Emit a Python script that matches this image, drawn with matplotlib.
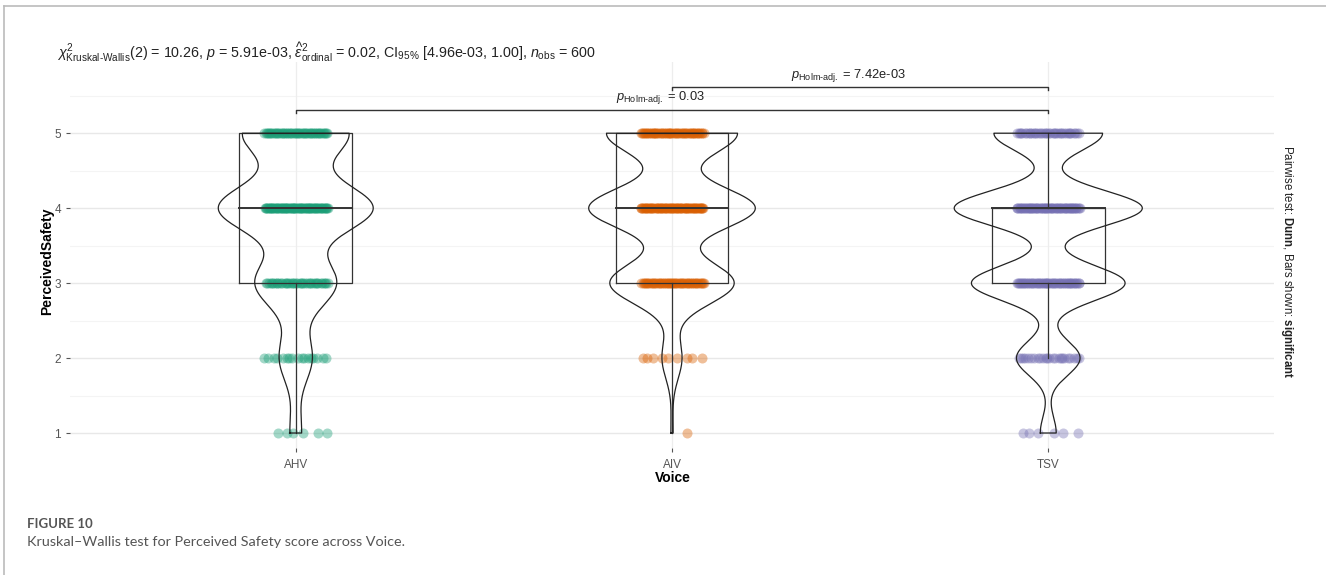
import numpy as np
import matplotlib
matplotlib.use("Agg")
import matplotlib.pyplot as plt
from matplotlib.lines import Line2D

# ---- data -------------------------------------------------------------
groups = ["AHV", "AIV", "TSV"]
levels = [1, 2, 3, 4, 5]
counts_ahv = [6, 17, 42, 80, 55]
counts_aiv = [1, 9, 56, 75, 59]
counts_tsv = [6, 24, 58, 71, 41]
group_counts = [counts_ahv, counts_aiv, counts_tsv]
colors = ["#1B9E77", "#D95F02", "#7570B3"]
y_ticks = [1, 2, 3, 4, 5]
sig_pairs = [("AHV", "TSV"), ("AIV", "TSV")]
sig_pvalues = ["0.03", "7.42e-03"]

subtitle = (r"$\chi^2_{\mathrm{Kruskal\text{-}Wallis}}(2)$ = 10.26, $\mathit{p}$ = 5.91e-03, "
            r"$\widehat{\varepsilon}^2_{\mathrm{ordinal}}$ = 0.02, CI$_{95\%}$ [4.96e-03, 1.00], "
            r"$\mathit{n}_{\mathrm{obs}}$ = 600")

plt.rcParams["font.family"] = ["Liberation Sans", "DejaVu Sans"]
plt.rcParams["mathtext.fontset"] = "custom"
plt.rcParams["mathtext.rm"] = "Liberation Sans"
plt.rcParams["mathtext.it"] = "Liberation Sans:italic"
plt.rcParams["mathtext.bf"] = "Liberation Sans:bold"
plt.rcParams["mathtext.sf"] = "Liberation Sans"


def bw_nrd0(x):
    sd = np.std(x, ddof=1)
    q75, q25 = np.percentile(x, [75, 25])
    lo = min(sd, (q75 - q25) / 1.34)
    return 0.9 * lo * len(x) ** -0.2


def kde(x, grid):
    h = bw_nrd0(x)
    z = (grid[:, None] - x[None, :]) / h
    return np.exp(-0.5 * z ** 2).sum(axis=1) / (len(x) * h * np.sqrt(2 * np.pi))


samples = [np.repeat(levels, c).astype(float) for c in group_counts]
grids = [np.linspace(s.min(), s.max(), 512) for s in samples]
dens = [kde(s, g) for s, g in zip(samples, grids)]
dmax = max(d.max() for d in dens)

W, H = 1326, 575
fig = plt.figure(figsize=(W / 100, H / 100), dpi=100)
ax = fig.add_axes([70 / W, 1 - 448 / H, (1274 - 70) / W, (448 - 62) / H])
ax.set_xlim(0.4, 3.6)
ax.set_ylim(0.8, 5.95)

# grid
for y in np.arange(1.5, 5.6, 1.0):
    ax.axhline(y, color="#F4F4F4", lw=0.8, zorder=0)
for y in y_ticks:
    ax.axhline(y, color="#E8E8E8", lw=1.0, zorder=0)
for i in range(len(groups)):
    ax.axvline(i + 1, color="#EDEDED", lw=0.9, zorder=0)

for i, (s, g, d, cnts, col) in enumerate(zip(samples, grids, dens, group_counts, colors)):
    xc = i + 1
    # jittered points
    for lev, c in zip(levels, cnts):
        k = np.arange(c)
        off = ((k * 0.6180339887 + 0.37 * (lev + i)) % 1.0 - 0.5) * 0.17
        ax.scatter(xc + off, np.full(c, lev), s=52, color=col, alpha=0.4,
                   linewidths=0, zorder=2)
    # box
    q1, med, q3 = np.percentile(s, [25, 50, 75])
    iqr = q3 - q1
    wlo = s[s >= q1 - 1.5 * iqr].min()
    whi = s[s <= q3 + 1.5 * iqr].max()
    bw = 0.15
    ax.plot([xc - bw, xc + bw, xc + bw, xc - bw, xc - bw], [q1, q1, q3, q3, q1],
            color="#333333", lw=0.9, zorder=3)
    ax.plot([xc - bw, xc + bw], [med, med], color="#333333", lw=1.4, zorder=3)
    ax.plot([xc, xc], [q3, whi], color="#333333", lw=0.9, zorder=3)
    ax.plot([xc, xc], [wlo, q1], color="#333333", lw=0.9, zorder=3)
    # violin
    hw = 0.25 * d / dmax
    vx = np.concatenate([xc - hw, (xc + hw)[::-1], [xc - hw[0]]])
    vy = np.concatenate([g, g[::-1], [g[0]]])
    ax.plot(vx, vy, color="#222222", lw=0.9, zorder=4)

# significance bars
bar_y = [5.31, 5.61]
tip = 0.04
for (a, b), p, yb in zip(sig_pairs, sig_pvalues, bar_y):
    xa, xb = groups.index(a) + 1, groups.index(b) + 1
    ax.plot([xa, xa, xb, xb], [yb - tip, yb, yb, yb - tip], color="#333333", lw=1.0,
            zorder=5, clip_on=False)
    ax.text((xa + xb) / 2 - 0.03, yb + 0.05, r"$\mathit{p}_{\mathrm{Holm\text{-}adj.}}$ = " + p,
            ha="center", va="bottom", fontsize=9.3, color="#222222")

ax.set_yticks(y_ticks)
ax.set_xticks(range(1, len(groups) + 1))
ax.set_xticklabels(groups)
ax.tick_params(axis="both", colors="#555555", labelsize=8.5, length=3, width=0.8)
ax.tick_params(axis="x", pad=5)
for sp in ax.spines.values():
    sp.set_visible(False)

fig.text(47 / W, 1 - 261 / H, "PerceivedSafety", rotation=90, ha="center", va="center",
         fontsize=10, fontweight="bold")
fig.text(673 / W, 1 - 478 / H, "Voice", ha="center", va="center",
         fontsize=10, fontweight="bold")
fig.text(57 / W, 1 - 52 / H, subtitle, ha="left", va="center", fontsize=10.3, color="#222222")
fig.text(1287 / W, 1 - 262 / H,
         r"Pairwise test: $\mathbf{Dunn}$, Bars shown: $\mathbf{significant}$",
         rotation=270, ha="center", va="center", fontsize=8.3, color="#222222")

fig.text(27 / W, 1 - 524 / H, "FIGURE 10", ha="left", va="center", fontsize=9.5,
         fontweight="bold", color="#555555", family=["Lato", "DejaVu Sans"])
fig.text(27 / W, 1 - 542 / H, "Kruskal\u2013Wallis test for Perceived Safety score across Voice.",
         ha="left", va="center", fontsize=10.4, color="#555555", family=["Lato", "DejaVu Sans"])

# page frame
fig.add_artist(Line2D([4 / W, 4 / W], [0, 1 - 6 / H], color="#BBBBBB", lw=1.2))
fig.add_artist(Line2D([4 / W, 1], [1 - 6 / H, 1 - 6 / H], color="#BBBBBB", lw=1.2))

fig.savefig("out.png", dpi=100)
